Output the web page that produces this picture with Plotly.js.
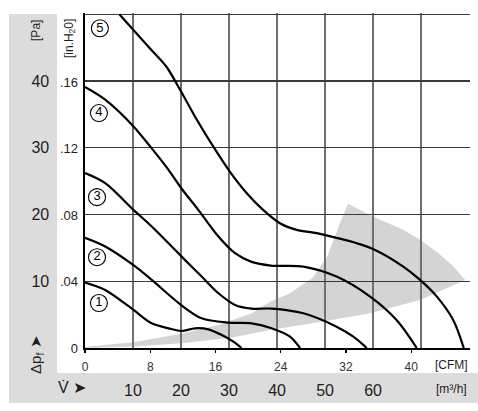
<!DOCTYPE html>
<html>
<head>
<meta charset="utf-8">
<script src="https://cdn.plot.ly/plotly-3.0.1.min.js"></script>
<style>
html,body{margin:0;padding:0;background:#fff;}
#wrap{position:relative;width:478px;height:411px;overflow:hidden;}
#chart{position:absolute;left:0;top:0;width:478px;height:411px;}
.panel{position:absolute;background:#dcdcdc;}
#pLeft{left:9px;top:14px;width:48px;height:389px;}
#pBottom{left:9px;top:373px;width:469px;height:30px;}
</style>
</head>
<body>
<div id="wrap">
<div class="panel" id="pLeft"></div>
<div class="panel" id="pBottom"></div>
<div id="chart"></div>
</div>
<script>
// flow in m³/h, pressure in Pa
const curve1X = [0, 4.2, 10.1, 13.9, 17.4, 20.1, 22.9, 25.7, 28.5, 30.9, 32.6];
const curve1Y = [9.8, 8.7, 5.7, 3.7, 2.95, 2.55, 2.95, 2.8, 1.95, 0.95, 0];
const curve2X = [0, 4.2, 10.1, 13.9, 20.1, 24.3, 29.9, 34.7, 38.7, 42.7, 44.8];
const curve2Y = [16.5, 15.2, 12.4, 10.2, 6.4, 4.45, 3.8, 3.7, 3.0, 1.7, 0];
const curve3X = [0, 4.2, 10.1, 13.9, 17.4, 20.8, 24.3, 27.8, 31.25, 34.7, 38.9, 45.5, 52.4, 55.9, 58.7];
const curve3Y = [26.2, 24.7, 20.7, 18.2, 15.7, 13.2, 10.7, 8.2, 6.45, 5.9, 5.9, 5.2, 3.2, 1.7, 0];
const curve4X = [0, 4.2, 10.1, 13.9, 17.4, 20.1, 23.6, 27.8, 31.25, 34.7, 38.7, 45.5, 52.4, 59.4, 64.9, 69.1];
const curve4Y = [39.1, 37.2, 33.2, 29.9, 26.7, 23.9, 20.7, 16.7, 14.2, 12.9, 12.35, 12.2, 10.7, 7.7, 4.2, 0];
const curve5X = [7.15, 13.5, 17, 19.8, 23.3, 26.7, 30.2, 33.7, 37.1, 40.6, 44.1, 48.3, 52.4, 56.6, 60.1, 66.3, 69.8, 73.3, 76.7, 78.9];
const curve5Y = [50, 44.9, 42.1, 38.7, 34.2, 30.2, 26.4, 23.2, 20.7, 18.7, 17.7, 17.2, 16.5, 15.7, 14.8, 12.2, 10.2, 7.7, 4.2, 0];

// operating region (grey wedge), m³/h / Pa
const regionX = [0, 10.4, 20.8, 27.7, 34.8, 38.5, 42.7, 47.5, 50.4, 53.1, 54.8, 59.4, 66.25, 69.8, 73.3, 76.5, 79.2, 69.8, 59.4, 49, 38.5, 31.25, 20.8, 10.4, 0];
const regionY = [0.15, 0.9, 2.25, 3.45, 5.2, 6.9, 8.2, 10.6, 13.6, 18.7, 21.6, 19.9, 17.7, 16.2, 14.4, 12.4, 10.2, 7.2, 5.2, 3.9, 2.7, 1.65, 0.75, 0.22, 0];

// curve number labels
const labelNames = ['1', '2', '3', '4', '5'];
const labelX = [2.9, 2.5, 2.5, 2.9, 3.1];
const labelY = [6.74, 13.6, 22.6, 35.2, 47.9];

// axis ticks
const m3hTicks = [0, 10, 20, 30, 40, 50, 60, 70, 80];
const m3hText = ['', '10', '20', '30', '40', '50', '60', '', ''];
const cfmTicks = [0, 8, 16, 24, 32, 40];
const cfmText = ['0', '8', '16', '24', '32', '40'];
const paTicks = [10, 20, 30, 40, 50];
const paText = ['10', '20', '30', '40', ''];
const inh2oTicks = [0, 0.04, 0.08, 0.12, 0.16];
const inh2oText = ['0', '.04', '.08', '.12', '.16'];

const M3H_PER_CFM = 1.699;
const PA_PER_INH2O = 249.09;
const X_MAX = 80.2, Y_MAX = 50.19;

const FONT = 'Liberation Sans, Arial, sans-serif';
const TXT = '#1e1e1e';

const curves = [[curve1X, curve1Y], [curve2X, curve2Y], [curve3X, curve3Y], [curve4X, curve4Y], [curve5X, curve5Y]];
const traces = curves.map(c => ({
  type: 'scatter', mode: 'lines', x: c[0], y: c[1],
  line: {color: '#000', width: 2.2, shape: 'spline', smoothing: 0.9},
  hoverinfo: 'skip', showlegend: false
}));
traces.push({
  type: 'scatter', mode: 'markers+text', x: labelX, y: labelY, text: labelNames,
  textposition: 'middle center', textfont: {family: FONT, size: 13, color: '#000'},
  marker: {symbol: 'circle', size: 17, color: '#fff', line: {color: '#000', width: 1.1}},
  hoverinfo: 'skip', showlegend: false
});

let path = '';
for (let i = 0; i < regionX.length; i++) path += (i ? ' L ' : 'M ') + regionX[i] + ',' + regionY[i];
path += ' Z';

function ann(x, y, text, size, angle) {
  return {xref: 'paper', yref: 'paper', x: x, y: y, text: text, textangle: angle || 0,
    xanchor: 'center', yanchor: 'middle', showarrow: false, font: {size: size, color: TXT}};
}

const layout = {
  width: 478, height: 411,
  margin: {l: 85, r: 8, t: 13, b: 63, pad: 0},
  paper_bgcolor: 'rgba(0,0,0,0)', plot_bgcolor: '#fff',
  showlegend: false,
  font: {family: FONT, color: TXT},
  xaxis: {
    range: [0, X_MAX], tickvals: m3hTicks, ticktext: m3hText,
    showgrid: true, gridcolor: '#707070', gridwidth: 1.2, zeroline: false,
    showline: true, linecolor: '#000', linewidth: 1.6,
    ticks: '', ticklabelstandoff: 27, tickfont: {size: 16, color: TXT}
  },
  xaxis2: {
    overlaying: 'x', anchor: 'y', side: 'bottom',
    range: [0, X_MAX / M3H_PER_CFM], tickvals: cfmTicks, ticktext: cfmText,
    showgrid: false, zeroline: false, showline: false,
    ticks: 'outside', ticklen: 4, tickcolor: '#000', tickwidth: 1.2, ticklabelstandoff: 4,
    tickfont: {size: 12, color: '#333'}
  },
  yaxis: {
    range: [0, Y_MAX], tickvals: paTicks, ticktext: paText,
    showgrid: true, gridcolor: '#383838', gridwidth: 1.2, zeroline: false,
    showline: true, linecolor: '#000', linewidth: 1.6,
    ticks: '', ticklabelstandoff: 31, tickfont: {size: 16, color: TXT}
  },
  yaxis2: {
    overlaying: 'y', anchor: 'x', side: 'left',
    range: [0, Y_MAX / PA_PER_INH2O], tickvals: inh2oTicks, ticktext: inh2oText,
    showgrid: false, zeroline: false, showline: false,
    ticks: '', ticklabelstandoff: 6, tickfont: {size: 13, color: TXT}
  },
  shapes: [
    {type: 'path', xref: 'x', yref: 'y', path: path, fillcolor: '#d4d4d4', line: {width: 0}, layer: 'below'}
  ],
  annotations: [
    ann(-0.1276, 0.949, '[Pa]', 12, -90),
    ann(-0.039, 0.925, '[in.H<sub>2</sub>0]', 12, -90),
    ann(-0.1276, -0.021, 'Δp<sub>f</sub> ➤', 15, -90),
    ann(-0.034, -0.119, 'V̇ ➤', 16, 0),
    ann(0.953, -0.051, '[CFM]', 12, 0),
    ann(0.953, -0.122, '[m³/h]', 12, 0)
  ]
};

// attach the secondary axes with invisible helper traces
traces.push({type: 'scatter', mode: 'none', x: [0], y: [0], xaxis: 'x2', hoverinfo: 'skip', showlegend: false});
traces.push({type: 'scatter', mode: 'none', x: [0], y: [0], yaxis: 'y2', hoverinfo: 'skip', showlegend: false});

Plotly.newPlot('chart', traces, layout, {staticPlot: true, displayModeBar: false});
</script>
</body>
</html>
